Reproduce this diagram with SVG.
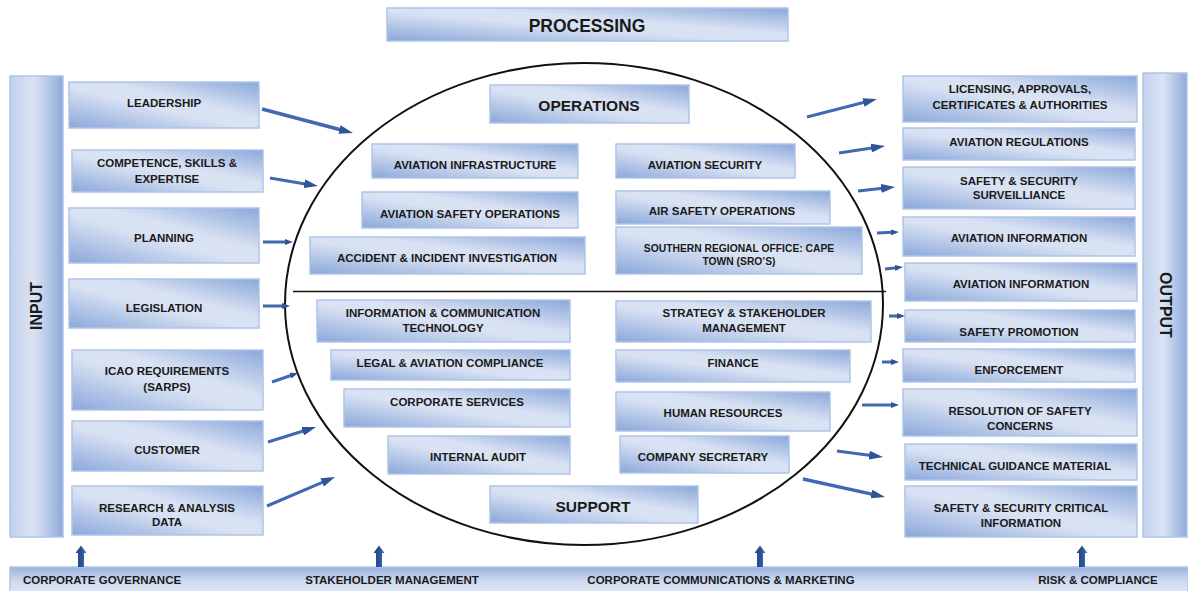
<svg xmlns="http://www.w3.org/2000/svg" width="1188" height="591" viewBox="0 0 1188 591">
  <defs>
    <linearGradient id="gBox" x1="0" y1="1" x2="1" y2="0">
      <stop offset="0" stop-color="#8aa7da"/>
      <stop offset="0.45" stop-color="#d9e2f3"/>
      <stop offset="0.6" stop-color="#d9e2f3"/>
      <stop offset="1" stop-color="#8aa7da"/>
    </linearGradient>
    <linearGradient id="gBar" x1="0" y1="0" x2="1" y2="0">
      <stop offset="0" stop-color="#c3d1ed"/>
      <stop offset="0.45" stop-color="#dbe3f3"/>
      <stop offset="1" stop-color="#8eaadb"/>
    </linearGradient>
    <linearGradient id="gBase" x1="0" y1="0" x2="0" y2="1">
      <stop offset="0" stop-color="#9bb2df"/>
      <stop offset="0.6" stop-color="#d3ddf1"/>
      <stop offset="1" stop-color="#dbe3f3"/>
    </linearGradient>
    <linearGradient id="gUp" x1="0" y1="0" x2="1" y2="0">
      <stop offset="0" stop-color="#1f3f7c"/>
      <stop offset="0.6" stop-color="#2f5597"/>
      <stop offset="1" stop-color="#4a74bb"/>
    </linearGradient>
    <marker id="headBig" markerUnits="userSpaceOnUse" markerWidth="14" markerHeight="9" viewBox="0 0 14 9" refX="4" refY="4.5" orient="auto">
      <path d="M0,0 L14,4.5 L0,9 z" fill="#2f5597"/>
    </marker>
    <marker id="headSmall" markerUnits="userSpaceOnUse" markerWidth="8" markerHeight="6" viewBox="0 0 8 6" refX="2" refY="3" orient="auto">
      <path d="M0,0 L8,3 L0,6 z" fill="#2f5597"/>
    </marker>
  </defs>
  <style>
    .box { fill: url(#gBox); stroke: #b0c4e8; stroke-width: 1.5; }
    .bar { fill: url(#gBar); stroke: #b0c4e8; stroke-width: 1.5; }
    .lbl { font-family: "Liberation Sans", Arial, sans-serif; font-weight: bold; font-size: 11.5px; fill: #1a1a1a; text-anchor: middle; }
    .small { font-size: 10.3px; }
    .head { font-size: 15.5px; }
    .title { font-size: 17.5px; }
    .vert { font-size: 16px; }
    .base { font-family: "Liberation Sans", Arial, sans-serif; font-weight: bold; font-size: 11.5px; fill: #1a1a1a; text-anchor: middle; }
    .arrow { stroke: #4169b3; stroke-width: 3; fill: none; }
    .thick { stroke-width: 3.5; }
    .up { fill: url(#gUp); }
  </style>

  <rect width="1188" height="591" fill="#ffffff"/>

  <!-- side bars -->
  <g id="input">
    <rect class="bar" x="10" y="76" width="53" height="461"/>
    <text class="lbl vert" transform="translate(36,306) rotate(-90)" x="0" y="5.6">INPUT</text>
  </g>
  <g id="output">
    <rect class="bar" x="1143" y="73" width="44" height="464"/>
    <text class="lbl vert" transform="translate(1166,305) rotate(90)" x="0" y="5.6">OUTPUT</text>
  </g>

  <!-- bottom strip of cross-cutting functions -->
  <g id="enablers">
    <rect x="10" y="567" width="1178" height="26" fill="url(#gBase)" stroke="#b0c4e8" stroke-width="1.5"/>
    <text class="base" x="102" y="584">CORPORATE GOVERNANCE</text>
    <text class="base" x="392" y="584">STAKEHOLDER MANAGEMENT</text>
    <text class="base" x="721" y="584">CORPORATE COMMUNICATIONS &amp; MARKETING</text>
    <text class="base" x="1098" y="584">RISK &amp; COMPLIANCE</text>
  </g>

  <!-- processing header -->
  <g id="processing">
    <rect class="box" x="387" y="8" width="401" height="33"/>
    <text class="lbl title" x="587" y="32">PROCESSING</text>
  </g>

  <!-- central process ellipse split into operations / support -->
  <g id="process-ellipse">
    <ellipse cx="584" cy="304" rx="299" ry="241" fill="none" stroke="#111" stroke-width="2"/>
    <line x1="293" y1="291.5" x2="886" y2="291.5" stroke="#111" stroke-width="1.6"/>
  </g>

  <!-- inputs -->
  <g id="in-leadership">
    <rect class="box" x="69" y="82" width="190" height="46"/>
    <text class="lbl" x="164" y="107">LEADERSHIP</text>
  </g>
  <g id="in-competence">
    <rect class="box" x="72" y="150" width="191" height="42"/>
    <text class="lbl" x="167" y="167">COMPETENCE, SKILLS &amp;</text>
    <text class="lbl" x="167" y="183">EXPERTISE</text>
  </g>
  <g id="in-planning">
    <rect class="box" x="69" y="208" width="190" height="55"/>
    <text class="lbl" x="164" y="242">PLANNING</text>
  </g>
  <g id="in-legislation">
    <rect class="box" x="69" y="279" width="190" height="49"/>
    <text class="lbl" x="164" y="312">LEGISLATION</text>
  </g>
  <g id="in-icao">
    <rect class="box" x="72" y="350" width="191" height="60"/>
    <text class="lbl" x="167" y="375">ICAO REQUIREMENTS</text>
    <text class="lbl" x="167" y="391">(SARPS)</text>
  </g>
  <g id="in-customer">
    <rect class="box" x="72" y="421" width="191" height="50"/>
    <text class="lbl" x="167" y="454">CUSTOMER</text>
  </g>
  <g id="in-research">
    <rect class="box" x="72" y="486" width="191" height="49"/>
    <text class="lbl" x="167" y="512">RESEARCH &amp; ANALYSIS</text>
    <text class="lbl" x="167" y="526">DATA</text>
  </g>

  <!-- operations -->
  <g id="operations">
    <rect class="box" x="490" y="85" width="199" height="38"/>
    <text class="lbl head" x="589" y="110.5">OPERATIONS</text>
  </g>
  <g id="op-infrastructure">
    <rect class="box" x="372" y="144" width="206" height="34"/>
    <text class="lbl" x="475" y="169">AVIATION INFRASTRUCTURE</text>
  </g>
  <g id="op-safety-ops">
    <rect class="box" x="362" y="192" width="216" height="36"/>
    <text class="lbl" x="470" y="218">AVIATION SAFETY OPERATIONS</text>
  </g>
  <g id="op-accident">
    <rect class="box" x="310" y="237" width="275" height="37"/>
    <text class="lbl" x="447" y="262">ACCIDENT &amp; INCIDENT INVESTIGATION</text>
  </g>
  <g id="op-security">
    <rect class="box" x="616" y="144" width="179" height="34"/>
    <text class="lbl" x="705" y="169">AVIATION SECURITY</text>
  </g>
  <g id="op-air-safety">
    <rect class="box" x="616" y="191" width="214" height="33"/>
    <text class="lbl" x="722" y="215">AIR SAFETY OPERATIONS</text>
  </g>
  <g id="op-sro">
    <rect class="box" x="616" y="227" width="246" height="47"/>
    <text class="lbl small" x="739" y="251.5">SOUTHERN REGIONAL OFFICE: CAPE</text>
    <text class="lbl small" x="739" y="264.5">TOWN (SRO’S)</text>
  </g>

  <!-- support -->
  <g id="sup-ict">
    <rect class="box" x="317" y="300" width="253" height="42"/>
    <text class="lbl" x="443" y="317">INFORMATION &amp; COMMUNICATION</text>
    <text class="lbl" x="443" y="332">TECHNOLOGY</text>
  </g>
  <g id="sup-legal">
    <rect class="box" x="331" y="350" width="239" height="30"/>
    <text class="lbl" x="450" y="367">LEGAL &amp; AVIATION COMPLIANCE</text>
  </g>
  <g id="sup-corporate">
    <rect class="box" x="344" y="389" width="226" height="38"/>
    <text class="lbl" x="457" y="406">CORPORATE SERVICES</text>
  </g>
  <g id="sup-audit">
    <rect class="box" x="388" y="436" width="182" height="38"/>
    <text class="lbl" x="478" y="461">INTERNAL AUDIT</text>
  </g>
  <g id="sup-strategy">
    <rect class="box" x="616" y="301" width="255" height="41"/>
    <text class="lbl" x="744" y="317">STRATEGY &amp; STAKEHOLDER</text>
    <text class="lbl" x="744" y="332">MANAGEMENT</text>
  </g>
  <g id="sup-finance">
    <rect class="box" x="616" y="350" width="234" height="32"/>
    <text class="lbl" x="733" y="367">FINANCE</text>
  </g>
  <g id="sup-hr">
    <rect class="box" x="616" y="392" width="214" height="39"/>
    <text class="lbl" x="723" y="417">HUMAN RESOURCES</text>
  </g>
  <g id="sup-secretary">
    <rect class="box" x="620" y="436" width="169" height="37"/>
    <text class="lbl" x="703" y="461">COMPANY SECRETARY</text>
  </g>
  <g id="support">
    <rect class="box" x="490" y="486" width="208" height="37"/>
    <text class="lbl head" x="593" y="511.5">SUPPORT</text>
  </g>

  <!-- outputs -->
  <g id="out-licensing">
    <rect class="box" x="903" y="76" width="234" height="46"/>
    <text class="lbl" x="1020" y="93">LICENSING, APPROVALS,</text>
    <text class="lbl" x="1020" y="109">CERTIFICATES &amp; AUTHORITIES</text>
  </g>
  <g id="out-regulations">
    <rect class="box" x="903" y="128" width="232" height="32"/>
    <text class="lbl" x="1019" y="146">AVIATION REGULATIONS</text>
  </g>
  <g id="out-surveillance">
    <rect class="box" x="903" y="167" width="232" height="42"/>
    <text class="lbl" x="1019" y="185">SAFETY &amp; SECURITY</text>
    <text class="lbl" x="1019" y="199">SURVEILLIANCE</text>
  </g>
  <g id="out-info-1">
    <rect class="box" x="903" y="217" width="232" height="39"/>
    <text class="lbl" x="1019" y="242">AVIATION INFORMATION</text>
  </g>
  <g id="out-info-2">
    <rect class="box" x="905" y="263" width="232" height="38"/>
    <text class="lbl" x="1021" y="288">AVIATION INFORMATION</text>
  </g>
  <g id="out-promotion">
    <rect class="box" x="905" y="310" width="230" height="32"/>
    <text class="lbl" x="1019" y="336">SAFETY PROMOTION</text>
  </g>
  <g id="out-enforcement">
    <rect class="box" x="903" y="349" width="232" height="33"/>
    <text class="lbl" x="1019" y="374">ENFORCEMENT</text>
  </g>
  <g id="out-resolution">
    <rect class="box" x="903" y="389" width="234" height="47"/>
    <text class="lbl" x="1020" y="415">RESOLUTION OF SAFETY</text>
    <text class="lbl" x="1020" y="430">CONCERNS</text>
  </g>
  <g id="out-guidance">
    <rect class="box" x="905" y="444" width="232" height="36"/>
    <text class="lbl" x="1015" y="470">TECHNICAL GUIDANCE MATERIAL</text>
  </g>
  <g id="out-critical">
    <rect class="box" x="905" y="486" width="232" height="51"/>
    <text class="lbl" x="1021" y="512">SAFETY &amp; SECURITY CRITICAL</text>
    <text class="lbl" x="1021" y="527">INFORMATION</text>
  </g>

  <!-- connectors -->
  <g id="connectors">
    <!-- inputs into processing -->
    <line class="arrow thick" x1="262" y1="109" x2="343.3" y2="130.5" marker-end="url(#headBig)"/>
    <line class="arrow" x1="270" y1="178" x2="308.1" y2="184.4" marker-end="url(#headBig)"/>
    <line class="arrow" x1="263" y1="242" x2="287" y2="242" marker-end="url(#headSmall)"/>
    <line class="arrow" x1="263" y1="306" x2="284" y2="306" marker-end="url(#headSmall)"/>
    <line class="arrow" x1="272" y1="382" x2="292.3" y2="375" marker-end="url(#headSmall)"/>
    <line class="arrow" x1="268" y1="442" x2="306.5" y2="430" marker-end="url(#headBig)"/>
    <line class="arrow" x1="267" y1="506" x2="325.8" y2="480.9" marker-end="url(#headBig)"/>
    <!-- processing to outputs -->
    <line class="arrow" x1="807" y1="117" x2="867.3" y2="101.5" marker-end="url(#headBig)"/>
    <line class="arrow" x1="839" y1="153" x2="875.1" y2="147.5" marker-end="url(#headBig)"/>
    <line class="arrow" x1="858" y1="191" x2="885.1" y2="188.1" marker-end="url(#headBig)"/>
    <line class="arrow" x1="877" y1="233" x2="893" y2="232.3" marker-end="url(#headSmall)"/>
    <line class="arrow" x1="885" y1="269" x2="897" y2="267.7" marker-end="url(#headSmall)"/>
    <line class="arrow" x1="889" y1="316" x2="899" y2="316" marker-end="url(#headSmall)"/>
    <line class="arrow" x1="882" y1="362" x2="893" y2="362" marker-end="url(#headSmall)"/>
    <line class="arrow" x1="862" y1="405" x2="893" y2="405" marker-end="url(#headSmall)"/>
    <line class="arrow" x1="837" y1="451" x2="873.1" y2="455.7" marker-end="url(#headBig)"/>
    <line class="arrow thick" x1="803" y1="479" x2="875.2" y2="494.9" marker-end="url(#headBig)"/>
    <!-- enablers pushing up -->
    <path class="up" d="M78,567 V553 H75.5 L81,545.5 L86.5,553 H84 V567 z"/>
    <path class="up" d="M376,567 V553 H373.5 L379,545.5 L384.5,553 H382 V567 z"/>
    <path class="up" d="M757,567 V553 H754.5 L760,545.5 L765.5,553 H763 V567 z"/>
    <path class="up" d="M1079,567 V553 H1076.5 L1082,545.5 L1087.5,553 H1085 V567 z"/>
  </g>
</svg>
